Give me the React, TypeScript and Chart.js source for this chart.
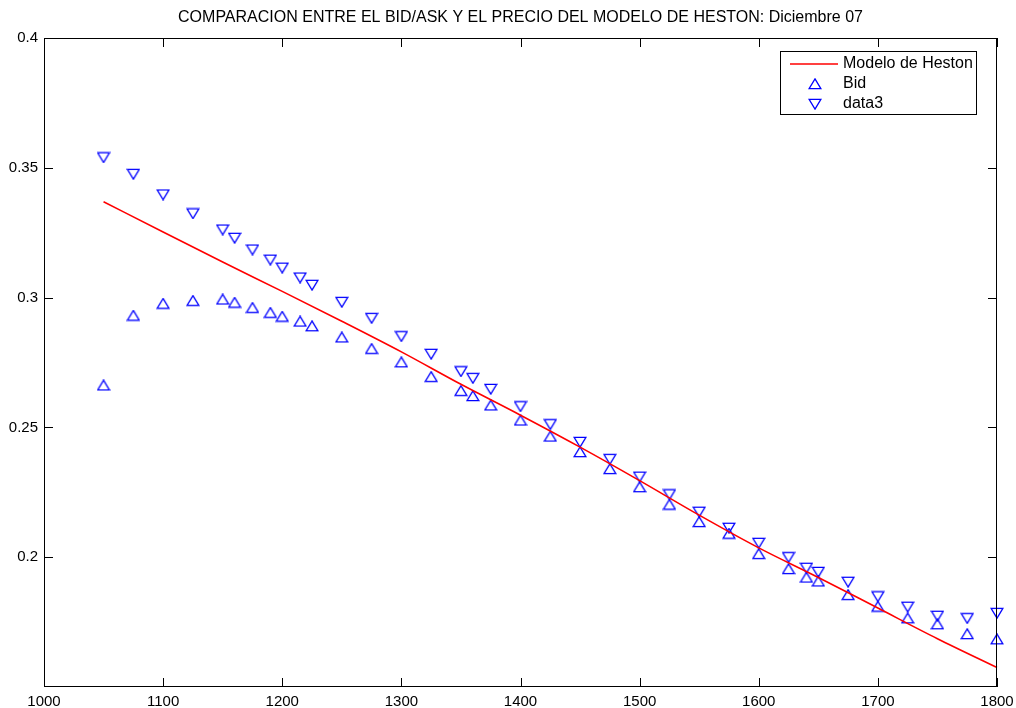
import React, { useEffect, useRef } from 'react';
import { Chart, registerables } from 'chart.js';

Chart.register(...registerables);

// Strikes and quoted prices (December 07 expiry)
const strikes = [
  1050, 1075, 1100, 1125, 1150, 1160, 1175, 1190, 1200, 1215, 1225, 1250,
  1275, 1300, 1325, 1350, 1360, 1375, 1400, 1425, 1450, 1475, 1500, 1525,
  1550, 1575, 1600, 1625, 1640, 1650, 1675, 1700, 1725, 1750, 1775, 1800,
];
const bidPrices = [
  0.2662, 0.2931, 0.2977, 0.2988, 0.2993, 0.2981, 0.2961, 0.2942, 0.2927, 0.2908, 0.289, 0.2847,
  0.2803, 0.2751, 0.2695, 0.2641, 0.2621, 0.2585, 0.2527, 0.2465, 0.2405, 0.234, 0.227, 0.2203,
  0.2136, 0.2091, 0.2013, 0.1955, 0.1922, 0.1907, 0.1855, 0.181, 0.1765, 0.1742, 0.1704, 0.1684,
];
const askPrices = [
  0.354, 0.3476, 0.3397, 0.3324, 0.3262, 0.323, 0.3185, 0.3146, 0.3115, 0.3077, 0.3049, 0.2983,
  0.2921, 0.2851, 0.2783, 0.2716, 0.269, 0.2648, 0.2581, 0.2512, 0.2444, 0.2378, 0.231, 0.2242,
  0.2175, 0.2113, 0.2055, 0.2, 0.1959, 0.1943, 0.1905, 0.1849, 0.1809, 0.1774, 0.1765, 0.1785,
];

// Heston model price curve
const modelStrikes = [1050, 1100, 1150, 1200, 1250, 1300, 1350, 1400, 1450, 1500, 1550, 1600, 1650, 1700, 1750, 1800];
const modelPrices = [
  0.3369, 0.3253, 0.3137, 0.3024, 0.2909, 0.2791, 0.2666, 0.2547, 0.2424, 0.2295, 0.2162, 0.2036,
  0.1922, 0.1804, 0.1686, 0.1575,
];

const xTickValues = [1000, 1100, 1200, 1300, 1400, 1500, 1600, 1700, 1800];
const yTickValues = [0.2, 0.25, 0.3, 0.35, 0.4];
const seriesLabels = ['Modelo de Heston', 'Bid', 'data3'];
const TITLE = 'COMPARACION ENTRE EL BID/ASK Y EL PRECIO DEL MODELO DE HESTON: Diciembre 07';

const FONT = '"Liberation Sans", Arial, Helvetica, sans-serif';
const BLUE = '#0000ff';
const RED = '#ff0000';

// Open triangle marker, centred on its bounding box
function makeTriangle(up: boolean): HTMLCanvasElement {
  const c = document.createElement('canvas');
  c.width = 14;
  c.height = 12;
  const ctx = c.getContext('2d')!;
  ctx.strokeStyle = BLUE;
  ctx.lineWidth = 1.3;
  ctx.lineJoin = 'miter';
  ctx.beginPath();
  if (up) {
    ctx.moveTo(7, 0.9);
    ctx.lineTo(12.9, 10.6);
    ctx.lineTo(1.1, 10.6);
  } else {
    ctx.moveTo(7, 11.1);
    ctx.lineTo(12.9, 1.4);
    ctx.lineTo(1.1, 1.4);
  }
  ctx.closePath();
  ctx.stroke();
  return c;
}

const TICK_LEN = 9;

const framePlugin = {
  id: 'matlabFrame',
  afterDraw(chart: any) {
    const { ctx, chartArea, scales } = chart;
    const { left, right, top, bottom } = chartArea;
    ctx.save();
    ctx.strokeStyle = '#000';
    ctx.lineWidth = 1;
    ctx.strokeRect(left + 0.5, top + 0.5, right - left - 1, bottom - top - 1);
    ctx.beginPath();
    for (const v of xTickValues) {
      const px = Math.round(scales.x.getPixelForValue(v)) + 0.5;
      ctx.moveTo(px, bottom);
      ctx.lineTo(px, bottom - TICK_LEN);
      ctx.moveTo(px, top);
      ctx.lineTo(px, top + TICK_LEN);
    }
    for (const v of yTickValues) {
      const py = Math.round(scales.y.getPixelForValue(v)) + 0.5;
      ctx.moveTo(left, py);
      ctx.lineTo(left + TICK_LEN, py);
      ctx.moveTo(right, py);
      ctx.lineTo(right - TICK_LEN, py);
    }
    ctx.stroke();

    // title
    ctx.fillStyle = '#000';
    ctx.font = `16px ${FONT}`;
    ctx.textAlign = 'center';
    ctx.textBaseline = 'middle';
    ctx.fillText(TITLE, (left + right) / 2, 18);

    // legend
    const bx = 780.5, by = 51.5, bw = 196, bh = 63;
    ctx.fillStyle = '#fff';
    ctx.fillRect(bx, by, bw, bh);
    ctx.strokeStyle = '#000';
    ctx.strokeRect(bx, by, bw, bh);
    const rows = [64, 83.5, 103.5];
    ctx.strokeStyle = RED;
    ctx.lineWidth = 1.5;
    ctx.beginPath();
    ctx.moveTo(790, rows[0]);
    ctx.lineTo(838, rows[0]);
    ctx.stroke();
    const up = chart.data.datasets[1].pointStyle as HTMLCanvasElement;
    const down = chart.data.datasets[2].pointStyle as HTMLCanvasElement;
    ctx.drawImage(up, 815 - 7, Math.round(rows[1] - 6));
    ctx.drawImage(down, 815 - 7, Math.round(rows[2] - 6));
    ctx.fillStyle = '#000';
    ctx.textAlign = 'left';
    ctx.font = `16px ${FONT}`;
    seriesLabels.forEach((t, i) => ctx.fillText(t, 843, rows[i]));
    ctx.restore();
  },
};

export default function App() {
  const canvasRef = useRef<HTMLCanvasElement | null>(null);

  useEffect(() => {
    const canvas = canvasRef.current;
    if (!canvas) return;
    const upMarker = makeTriangle(true);
    const downMarker = makeTriangle(false);

    const chart = new Chart(canvas, {
      type: 'scatter',
      data: {
        datasets: [
          {
            label: seriesLabels[0],
            data: modelStrikes.map((x, i) => ({ x, y: modelPrices[i] })),
            showLine: true,
            borderColor: RED,
            borderWidth: 1.6,
            pointRadius: 0,
            cubicInterpolationMode: 'monotone',
            clip: false,
          },
          {
            label: seriesLabels[1],
            data: strikes.map((x, i) => ({ x, y: bidPrices[i] })),
            pointStyle: upMarker,
            pointRadius: 6,
            borderColor: BLUE,
            clip: false,
          },
          {
            label: seriesLabels[2],
            data: strikes.map((x, i) => ({ x, y: askPrices[i] })),
            pointStyle: downMarker,
            pointRadius: 6,
            borderColor: BLUE,
            clip: false,
          },
        ],
      } as any,
      options: {
        responsive: false,
        animation: false,
        events: [],
        layout: { padding: { top: 38, right: 19, left: 0, bottom: 0 } },
        plugins: {
          legend: { display: false },
          title: { display: false },
          tooltip: { enabled: false },
        },
        scales: {
          x: {
            type: 'linear',
            min: 1000,
            max: 1800,
            afterBuildTicks: (s: any) => {
              s.ticks = xTickValues.map((value) => ({ value }));
            },
            afterFit: (s: any) => {
              s.height = 21;
              s.paddingLeft = 0;
              s.paddingRight = 0;
            },
            ticks: {
              callback: (v: any) => String(v),
              font: { family: FONT, size: 15 },
              color: '#000',
              padding: 6,
              maxRotation: 0,
              autoSkip: false,
            },
            grid: { display: false, drawTicks: false },
            border: { display: false },
          },
          y: {
            type: 'linear',
            min: 0.15,
            max: 0.4,
            afterBuildTicks: (s: any) => {
              s.ticks = yTickValues.map((value) => ({ value }));
            },
            afterFit: (s: any) => {
              s.width = 44;
              s.paddingTop = 0;
              s.paddingBottom = 0;
            },
            ticks: {
              callback: (v: any) => String(v),
              font: { family: FONT, size: 15 },
              color: '#000',
              padding: 6,
              autoSkip: false,
            },
            grid: { display: false, drawTicks: false },
            border: { display: false },
          },
        },
      } as any,
      plugins: [framePlugin],
    });

    return () => chart.destroy();
  }, []);

  return (
    <div style={{ position: 'fixed', left: 0, top: 0, width: 1016, height: 708, background: '#fff' }}>
      <canvas ref={canvasRef} width={1016} height={708} style={{ display: 'block' }} />
    </div>
  );
}
